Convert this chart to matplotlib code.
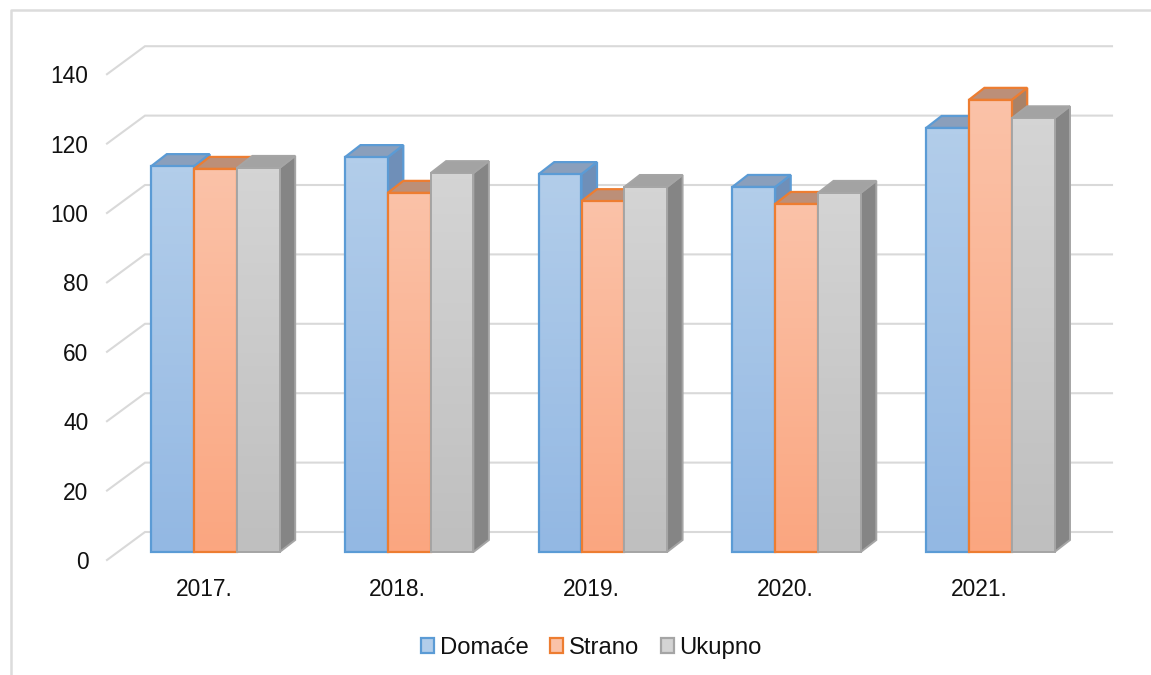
import matplotlib
matplotlib.use('Agg')
import matplotlib.pyplot as plt
import numpy as np
from matplotlib.patches import Patch, Polygon
from matplotlib.lines import Line2D
from matplotlib.colors import LinearSegmentedColormap

plt.rcParams['font.family'] = ['Liberation Sans', 'DejaVu Sans']

years = ['2017.', '2018.', '2019.', '2020.', '2021.']
domace = [111.2, 113.8, 108.9, 105.2, 122.2]
strano = [110.4, 103.5, 101.1, 100.3, 130.3]
ukupno = [110.7, 109.2, 105.2, 103.5, 125.0]
y_ticks = [0, 20, 40, 60, 80, 100, 120, 140]
names = ['Domaće', 'Strano', 'Ukupno']
series = [domace, strano, ukupno]

# top and bottom of the front gradient, edge, top face, side face
styles = [
    ('#B2CDEA', '#93B8E3', '#5B9BD5', '#8A9FBC', '#6F8FB8'),
    ('#FAC2A8', '#FBA680', '#ED7D31', '#BC8F78', '#A88268'),
    ('#D4D4D4', '#BFBFBF', '#A5A5A5', '#A3A3A3', '#858585'),
]

# pixel scale of the picture
W, H = 1151, 675
px_x = 193.7   # px per category
px_y = 3.47    # px per unit
x0_px, y0_px = 215.5, 552
bar_w = 42.8 / px_x
dep_x, dep_y = 15.5 / px_x, 12 / px_y

fig = plt.figure(figsize=(W / 100, H / 100), dpi=100)
ax = fig.add_axes([0, 0, 1, 1])
ax.axis('off')

# outer frame, open at the bottom and right
fig.add_artist(Line2D([10.5 / W, 10.5 / W, 1], [0, 1 - 10 / H, 1 - 10 / H],
                      color='#DCDCDC', lw=1.8))

# floor/wall gridlines
wall_left = (145 - x0_px) / px_x
wall_right = (1112 - x0_px) / px_x
front_left = (107 - x0_px) / px_x
for t in y_ticks:
    back = t + 20 / px_y
    front = t - 8 / px_y
    ax.plot([front_left, wall_left, wall_right], [front, back, back],
            color='#D9D9D9', lw=1.5, zorder=1, solid_joinstyle='miter')
    ax.text((88.5 - x0_px) / px_x, front - 2.5 / px_y, str(t), ha='right', va='center',
            fontsize=16.4, color='#111111')

z = 3
for i, year in enumerate(years):
    left = i - 1.5 * bar_w
    for s, vals in enumerate(series):
        v = vals[i]
        x = left + s * bar_w
        c_top, c_bot, c_edge, c_face, c_side = styles[s]
        lw = 1.6 if s < 2 else 1.4
        side = Polygon([(x + bar_w, 0), (x + bar_w + dep_x, dep_y),
                        (x + bar_w + dep_x, v + dep_y), (x + bar_w, v)],
                       facecolor=c_side, edgecolor=c_edge, lw=lw, zorder=z)
        top = Polygon([(x, v), (x + dep_x, v + dep_y),
                       (x + bar_w + dep_x, v + dep_y), (x + bar_w, v)],
                      facecolor=c_face, edgecolor=c_edge, lw=lw, zorder=z)
        ax.add_patch(side)
        ax.add_patch(top)
        cmap = LinearSegmentedColormap.from_list('g', [c_top, c_bot])
        ax.imshow(np.linspace(0, 1, 64).reshape(-1, 1), cmap=cmap, aspect='auto',
                  extent=(x, x + bar_w, 0, v), zorder=z + 0.1)
        ax.bar(x, v, width=bar_w, align='edge', facecolor='none', edgecolor=c_edge,
               lw=lw, zorder=z + 0.2)
        z += 1
    ax.text(i - 11.5 / px_x, (552 - 590) / px_y, year, ha='center', va='center',
            fontsize=16.4, color='#111111')

ax.set_xlim(-x0_px / px_x, (W - x0_px) / px_x)
ax.set_ylim((y0_px - H) / px_y, y0_px / px_y)

handles = [Patch(facecolor=st[0], edgecolor=st[2], lw=1.6) for st in styles]
ax.legend(handles, names, loc='center', bbox_to_anchor=(591.5 / W, 1 - 648 / H),
          ncol=3, frameon=False, fontsize=17.2, handlelength=0.54, handleheight=0.54,
          handletextpad=0.25, columnspacing=0.9, labelcolor='#111111')

fig.savefig('out.png', dpi=100)
